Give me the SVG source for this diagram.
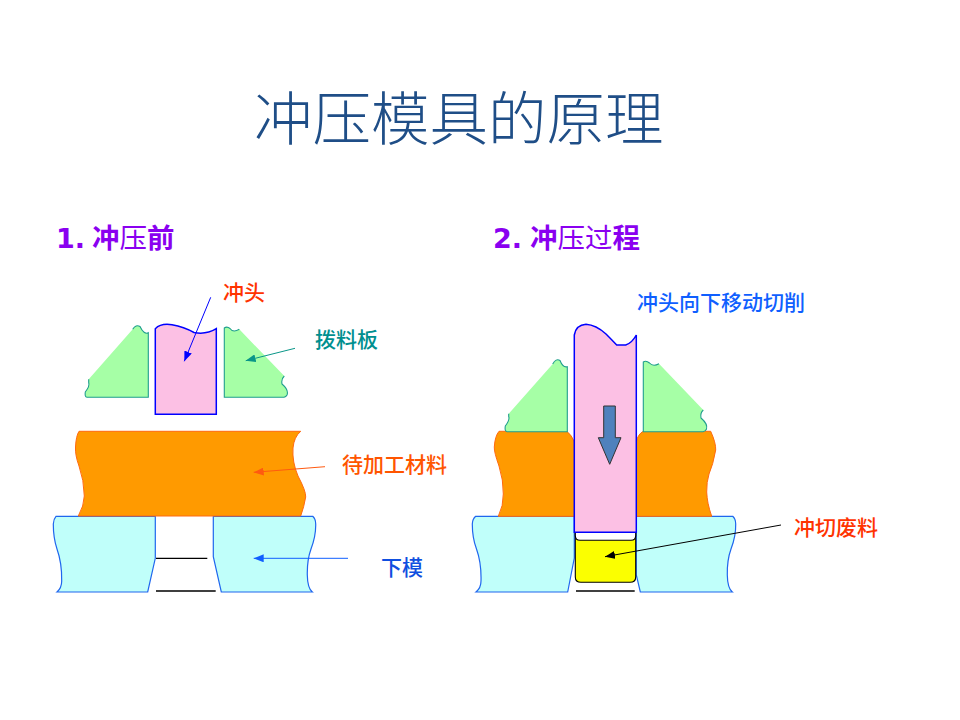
<svg xmlns="http://www.w3.org/2000/svg" width="960" height="720" viewBox="0 0 960 720">
<style>
text{font-family:"Noto Sans CJK SC","DejaVu Sans",sans-serif}
.title{font-size:58.5px;font-weight:300;fill:#1f4e87}
.head{font-size:27.5px;fill:#8a00f0;font-weight:400}
.b{font-weight:700}
.num{font-family:"DejaVu Sans",sans-serif;font-weight:700;font-size:27px}
.lab{font-size:21px;font-weight:500}
.pf{fill:#a6ffa6;stroke:none}
.plate{fill:none;stroke:#1f9e8e;stroke-width:1.1}
.punch{fill:#fcc0e4;stroke:#0000ff;stroke-width:1.5}
.work{fill:#ff9a00;stroke:#ff6a10;stroke-width:1}
.die{fill:#c0fffa;stroke:#1f66ee;stroke-width:1.2}
.blk{stroke:#000;stroke-width:1.3;fill:none}
</style>
<defs>
<marker id="aB" markerUnits="userSpaceOnUse" markerWidth="10" markerHeight="8" refX="10" refY="4" orient="auto"><path d="M0 0L10 4L0 8Z" fill="#0000ff"/></marker>
<marker id="aT" markerUnits="userSpaceOnUse" markerWidth="10" markerHeight="8" refX="10" refY="4" orient="auto"><path d="M0 0L10 4L0 8Z" fill="#0a9688"/></marker>
<marker id="aO" markerUnits="userSpaceOnUse" markerWidth="10" markerHeight="8" refX="10" refY="4" orient="auto"><path d="M0 0L10 4L0 8Z" fill="#ff5a10"/></marker>
<marker id="aD" markerUnits="userSpaceOnUse" markerWidth="10" markerHeight="8" refX="10" refY="4" orient="auto"><path d="M0 0L10 4L0 8Z" fill="#0f5fff"/></marker>
<marker id="aK" markerUnits="userSpaceOnUse" markerWidth="10" markerHeight="8" refX="10" refY="4" orient="auto"><path d="M0 0L10 4L0 8Z" fill="#000"/></marker>
</defs>
<g id="title"><text class="title" x="254" y="140">冲压模具的原理</text></g>
<g id="head1"><text class="head" x="56" y="248"><tspan class="num">1.</tspan><tspan class="b" x="92">冲</tspan><tspan>压</tspan><tspan class="b">前</tspan></text></g>
<g id="head2"><text class="head" x="493" y="248"><tspan class="num">2.</tspan><tspan class="b" x="530">冲</tspan><tspan>压过</tspan><tspan class="b">程</tspan></text></g>

<g id="before">
<g id="die-left-1"><path class="die" d="M56 516.3H155.3V558.3L147.7 592H57Q61.7 588 61.7 581Q62 563 57 549Q53.3 538 53.3 524Q53.5 519 56 516.3Z"/></g>
<g id="die-right-1"><path class="die" d="M213.3 516.3H312.7Q315.7 519 315.7 524Q316 536 311 549Q307 560 307.3 575Q307.5 588 312.3 592H221.3L213.3 556.7Z"/></g>
<g id="work-1"><path class="work" d="M79 431.3H300.7Q294 437 293 448Q292 462 298 476Q306 491 305.7 497Q304 507 300.7 516H78.3Q84 506 84.3 496Q84 480 79 466Q75 455 75.5 447Q76 436 79 431.3Z"/></g>
<g id="plate-left-1"><path class="pf" d="M148.3 397.3H87Q84.5 397 85.3 392Q90 386 88.7 382.5L88.7 379.3L132.7 329.3Q136 324 140 326.5Q144 335 148.3 332.7Z"/><path class="plate" d="M88.7 379.3V382.5Q90 386 85.3 392Q84.5 397 87 397.3H148.3V332.7Q144 335 140 326.5Q136 324 132.7 329.3"/></g>
<g id="plate-right-1"><path class="pf" d="M224.3 397.3V328Q227 326 230 328.5Q233 333 239.3 329.3L284.3 376Q281 379 282 384Q289 390 287 395Q286 397 284 397.3Z"/><path class="plate" d="M239.3 329.3Q233 333 230 328.5Q227 326 224.3 328V397.3H284Q286 397 287 395Q289 390 282 384Q281 379 284.3 376"/></g>
<g id="punch-1"><path class="punch" d="M155.3 414.3V328.7Q161 323 172 324.8Q184 327 194 332.5Q206 335 216.3 328.7V414.3Z"/></g>
<path class="blk" d="M156 558.3H207.3M156 591H215.7"/>
</g>

<g id="during">
<g id="die-left-2"><path class="die" d="M475.7 516.3H574.3V558L567.7 592H476Q481 588 481 581Q481.5 563 476.5 549Q472.3 538 472.3 524Q472.5 519 475.7 516.3Z"/></g>
<g id="die-right-2"><path class="die" d="M636.3 516.3H732.7Q735.7 519 735.7 524Q736 536 731 549Q727 560 727.3 575Q727.5 588 732.3 592H640.3L636.3 575Z"/></g>
<g id="work-left-2"><path class="work" d="M499 431.3H566.7Q571 434 574.3 441.7V516.3H498.3Q503.5 506 503.3 494Q503.5 480 499 466Q494 452 494.3 447Q495 436 499 431.3Z"/></g>
<g id="work-right-2"><path class="work" d="M636.3 441.7Q638 434 643.3 431.3H710.7Q716 443 715.7 450Q713 465 709 474Q706.5 482 706.7 492Q707 503 711.7 516.3H636.3Z"/></g>
<g id="plate-left-2"><path class="pf" d="M567.3 431.7H507Q504.5 431.5 505.3 426Q510 420 508.7 416.5L508.7 413.7L552.7 364Q556 358 560 360.5Q563 368 567.3 366.7Z"/><path class="plate" d="M508.7 413.7V416.5Q510 420 505.3 426Q504.5 431.5 507 431.7H567.3V366.7Q563 368 560 360.5Q556 358 552.7 364"/></g>
<g id="plate-right-2"><path class="pf" d="M643.3 431.7V362Q646 360 649.5 363Q653 367 659 363.7L703.3 410Q700 413 701 418Q708 424 706.5 429Q705.5 431.5 703 431.7Z"/><path class="plate" d="M659 363.7Q653 367 649.5 363Q646 360 643.3 362V431.7H703Q705.5 431.5 706.5 429Q708 424 701 418Q700 413 703.3 410"/></g>
<g id="slug"><path d="M575.3 532H635.7V577Q635.7 582.3 630 582.3H581Q575.3 582.3 575.3 577Z" fill="#fbff00" stroke="#000" stroke-width="1.1"/><path d="M575.3 532H635.7V535.5Q635.7 540.3 631 540.3H580Q575.3 540.3 575.3 535.5Z" fill="#fff" stroke="#000" stroke-width="1.1"/></g>
<g id="punch-2"><path class="punch" d="M574.3 532.3V335Q576 325 586 324.3Q596 325 606 334Q612 340 616.7 345H625.7Q632 343 636.3 335V532.3Z"/></g>
<g id="move-arrow"><path d="M603.7 406H615.3V437.7H621L609.7 464.3L598.3 437.7H603.7Z" fill="#4f81bd" stroke="#333" stroke-width="1"/></g>
<path class="blk" d="M576 591H634.7"/>
</g>

<g id="connectors" fill="none">
<path d="M210.7 297.3L184.3 361.3" stroke="#0000ff" stroke-width="1" marker-end="url(#aB)"/>
<path d="M295 348.3L245.7 360.7" stroke="#0a9688" stroke-width="1" marker-end="url(#aT)"/>
<path d="M325 466.7L253.7 472.3" stroke="#ff5a10" stroke-width="1" marker-end="url(#aO)"/>
<path d="M348 558.3H253.7" stroke="#0f5fff" stroke-width="1" marker-end="url(#aD)"/>
<path d="M781 525L605 556.7" stroke="#000" stroke-width="1" marker-end="url(#aK)"/>
</g>

<g id="labels">
<text class="lab" x="223" y="300" fill="#ff3300">冲头</text>
<text class="lab" x="315" y="347" fill="#008f8f">拨料板</text>
<text class="lab" x="342" y="472" fill="#ff5500">待加工材料</text>
<text class="lab" x="381" y="575" fill="#0f4fe0">下模</text>
<text class="lab" x="637" y="310" fill="#0f5fff">冲头向下移动切削</text>
<text class="lab" x="794" y="535" fill="#ff3300">冲切废料</text>
</g>
</svg>
